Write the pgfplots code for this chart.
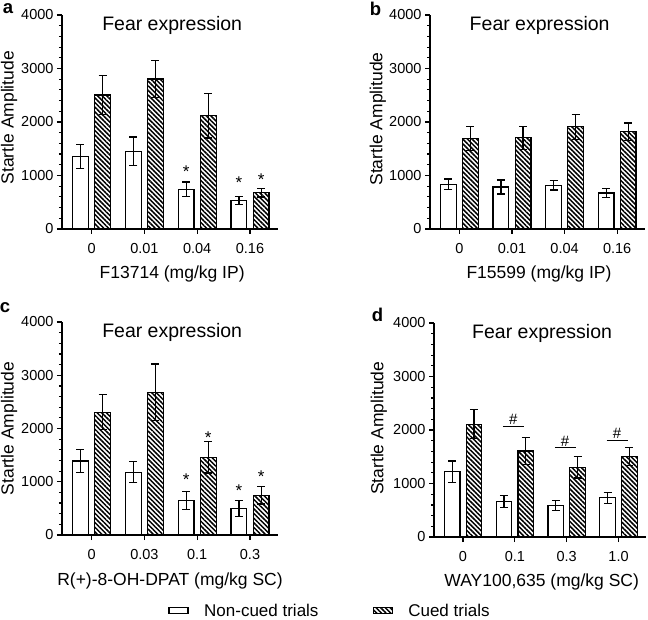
\documentclass[border=0pt]{standalone}
\usepackage{fontspec}
\setmainfont{Liberation Sans}
\usepackage{pgfplots}
\pgfplotsset{compat=1.18}
\usetikzlibrary{patterns.meta}

\tikzset{letter/.style={font=\bfseries\fontsize{18.5}{19}\selectfont, inner sep=0pt}}
\pgfplotsset{
  panel/.style={
    scale only axis, height=214pt, width=216pt,
    xmin=-0.56, xmax=3.53, ymin=0, ymax=4000,
    axis x line*=bottom, axis y line*=left,
    axis line style={line width=1.4pt, black},
    xtick={0,1,2,3},
    ytick={0,1000,2000,3000,4000},
    yticklabels={0,1000,2000,3000,4000},
    minor y tick num=4,
    tick align=outside, major tick length=5pt, minor tick length=3pt,
    every tick/.style={line width=1.2pt, black},
    ticklabel style={font=\fontsize{14.5}{15}\selectfont},
    xticklabel style={yshift=-6pt},
    title={Fear expression},
    title style={at={(0.51,1)}, anchor=north, yshift=-7pt, inner sep=0pt, font=\fontsize{19.5}{20}\selectfont},
    xlabel style={font=\fontsize{17.5}{18}\selectfont, anchor=center},
    ylabel style={font=\fontsize{17.5}{18}\selectfont, anchor=center},
    ylabel={Startle Amplitude},
    clip=false,
  },
  ebar/.style={error bars/.cd, y dir=both, y explicit,
    error bar style={line width=1.2pt, black},
    error mark options={rotate=90, line width=1.2pt, mark size=4pt, black}},
  wbar/.style={ybar, bar width=0.3, bar shift=0, draw=black, line width=1.2pt, fill=white, ebar},
  hbar/.style={ybar, bar width=0.3, bar shift=0, draw=black, line width=1.2pt,
    pattern={Lines[angle=-45,distance=3.3pt,line width=1.5pt]}, ebar},
  starplot/.style={draw=none, mark=none, nodes near coords, point meta=explicit symbolic,
    every node near coord/.append style={anchor=base, inner sep=0pt, font=\fontsize{17}{17}\selectfont}},
  hashplot/.style={draw=none, mark=none, nodes near coords, point meta=explicit symbolic,
    every node near coord/.append style={anchor=base, inner sep=0pt, font=\fontsize{15}{15}\selectfont}},
}

\begin{document}
\begin{tikzpicture}
\useasboundingbox (0,0) rectangle (648pt,619pt);

% ---------- a ----------
\begin{axis}[panel, at={(62pt,390pt)}, anchor=south west,
  xticklabels={0,0.01,0.04,0.16},
  xlabel={F13714 (mg/kg IP)},
  xlabel style={at={(axis description cs:0.51,-0.21)}},
  ylabel style={at={(axis description cs:-0.245,0.52)}}]
\addplot[wbar] coordinates {(-0.21,1355) +- (0,230) (0.79,1450) +- (0,270) (1.79,740) +- (0,137) (2.79,535) +- (0,75)};
\addplot[hbar] coordinates {(0.21,2505) +- (0,370) (1.21,2805) +- (0,340) (2.21,2120) +- (0,420) (3.21,680) +- (0,83)};
\addplot[starplot] coordinates {(1.79,963) [*] (2.79,763) [*] (3.21,819) [*]};
\node[letter] at (rel axis cs:-0.25,1.028) {a};
\end{axis}

% ---------- b ----------
\begin{axis}[panel, at={(430pt,390pt)}, anchor=south west, width=215pt,
  xticklabels={0,0.01,0.04,0.16},
  xlabel={F15599 (mg/kg IP)},
  xlabel style={at={(axis description cs:0.507,-0.21)}},
  ylabel style={at={(axis description cs:-0.242,0.514)}}]
\addplot[wbar] coordinates {(-0.21,835) +- (0,100) (0.79,785) +- (0,130) (1.79,816) +- (0,87) (2.79,673) +- (0,87)};
\addplot[hbar] coordinates {(0.21,1690) +- (0,225) (1.21,1705) +- (0,215) (2.21,1910) +- (0,230) (3.21,1815) +- (0,168)};
\node[letter] at (rel axis cs:-0.253,1.03) {b};
\end{axis}

% ---------- c ----------
\begin{axis}[panel, at={(62pt,84pt)}, anchor=south west, height=213pt,
  xticklabels={0,0.03,0.1,0.3},
  xlabel={R(+)-8-OH-DPAT (mg/kg SC)},
  xlabel style={at={(axis description cs:0.50,-0.218)}},
  ylabel style={at={(axis description cs:-0.245,0.50)}},
  legend columns=2,
  legend style={at={(1.236,-0.355)}, anchor=center, draw=none, fill=none,
    font=\fontsize{17}{17}\selectfont, inner sep=0pt,
    nodes={inner sep=0pt, anchor=west},
    /tikz/every even column/.append style={column sep=54pt}},
  ]
\addlegendimage{legend image code/.code={\draw[black, line width=1.2pt, fill=white] (0pt,-3pt) rectangle (19pt,3pt); \path (35pt,0pt);}}
\addlegendimage{legend image code/.code={\draw[black, line width=1.2pt, pattern={Lines[angle=-45,distance=3.3pt,line width=1.5pt]}] (0pt,-3pt) rectangle (19pt,3pt); \path (35pt,0pt);}}
\addplot[wbar] coordinates {(-0.21,1390) +- (0,220) (0.79,1179) +- (0,195) (1.79,652) +- (0,170) (2.79,502) +- (0,150)};
\addplot[hbar] coordinates {(0.21,2307) +- (0,330) (1.21,2683) +- (0,527) (2.21,1461) +- (0,295) (3.21,746) +- (0,165)};
\addplot[starplot] coordinates {(1.79,926) [*] (2.21,1710) [*] (2.79,719) [*] (3.21,982) [*]};
\legend{Non-cued trials, Cued trials}
\node[letter] at (rel axis cs:-0.264,1.068) {c};
\end{axis}

% ---------- d ----------
\begin{axis}[panel, at={(434pt,82pt)}, anchor=south west, width=212pt,
  xticklabels={0,0.1,0.3,1.0},
  xlabel={WAY100,635 (mg/kg SC)},
  xlabel style={at={(axis description cs:0.508,-0.212)}},
  ylabel style={at={(axis description cs:-0.26,0.508)}}]
\addplot[wbar] coordinates {(-0.21,1221) +- (0,200) (0.79,657) +- (0,113) (1.79,588) +- (0,88) (2.79,732) +- (0,100)};
\addplot[hbar] coordinates {(0.21,2110) +- (0,270) (1.21,1609) +- (0,256) (2.21,1302) +- (0,200) (3.21,1509) +- (0,170)};
\addplot[black, line width=1.1pt] coordinates {(0.77,2072) (1.18,2072)};
\addplot[black, line width=1.1pt] coordinates {(1.77,1665) (2.18,1665)};
\addplot[black, line width=1.1pt] coordinates {(2.77,1809) (3.18,1809)};
\addplot[hashplot] coordinates {(0.97,2098) [\#] (1.97,1692) [\#] (2.97,1848) [\#]};
\node[letter] at (rel axis cs:-0.266,1.037) {d};
\end{axis}
\end{tikzpicture}
\end{document}
